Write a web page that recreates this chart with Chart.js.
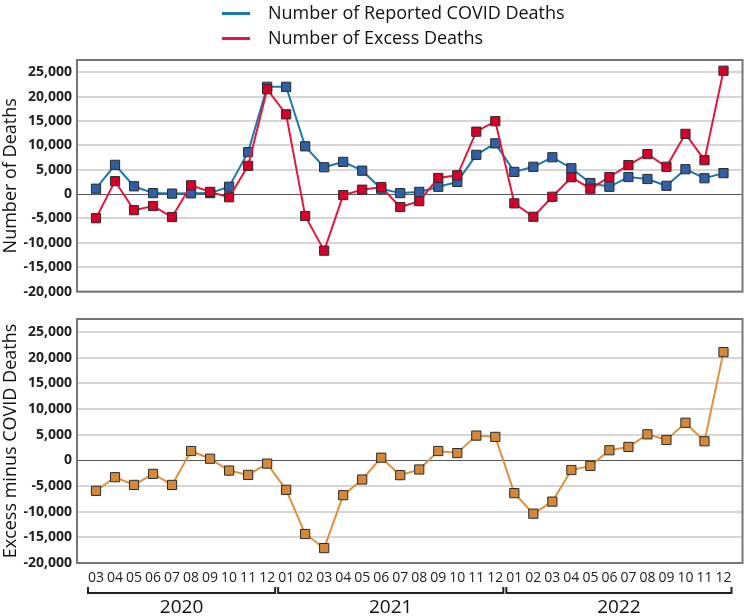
<!DOCTYPE html>
<html><head><meta charset="utf-8">
<script src="https://cdn.jsdelivr.net/npm/chart.js@4/dist/chart.umd.min.js"></script>
<style>
html,body{margin:0;padding:0;background:#fff;}
#wrap{position:relative;width:750px;height:616px;overflow:hidden;font-family:"Open Sans",sans-serif;}
#c1{position:absolute;left:0;top:0;}
#c2{position:absolute;left:0;top:305px;}
.leg{position:absolute;left:222px;font-size:18px;color:#111;line-height:24px;height:24px;white-space:nowrap;z-index:2;}
.leg span{display:inline-block;width:28px;height:3px;vertical-align:middle;margin-right:18px;position:relative;top:-1px;}
</style></head>
<body>
<div id="wrap">
  <canvas id="c1" width="750" height="305"></canvas>
  <canvas id="c2" width="750" height="311"></canvas>
  <div class="leg" style="top:0px"><span style="background:#1a78b0"></span>Number of Reported COVID Deaths</div>
  <div class="leg" style="top:25px"><span style="background:#e3173e"></span>Number of Excess Deaths</div>
</div>
<script>
const periods = ['2020-03','2020-04','2020-05','2020-06','2020-07','2020-08','2020-09','2020-10','2020-11','2020-12',
  '2021-01','2021-02','2021-03','2021-04','2021-05','2021-06','2021-07','2021-08','2021-09','2021-10','2021-11','2021-12',
  '2022-01','2022-02','2022-03','2022-04','2022-05','2022-06','2022-07','2022-08','2022-09','2022-10','2022-11','2022-12'];
const years = ['2020','2021','2022'];
const covidDeaths = [1100, 6000, 1600, 200, 100, 150, 200, 1500, 8600, 22000,
  22000, 9800, 5500, 6600, 4800, 1100, 200, 450, 1500, 2500, 8050, 10400,
  4550, 5600, 7550, 5300, 2250, 1500, 3500, 3100, 1700, 5100, 3250, 4300];
const excessDeaths = [-4950, 2650, -3300, -2450, -4700, 1800, 450, -650, 5800, 21500,
  16350, -4500, -11600, -200, 900, 1450, -2650, -1450, 3300, 3850, 12800, 14950,
  -1900, -4650, -550, 3450, 1100, 3500, 5950, 8200, 5600, 12350, 6950, 25300];
const excessMinusCovid = [-5950, -3300, -4800, -2650, -4800, 1800, 300, -2000, -2850, -650,
  -5750, -14350, -17100, -6800, -3750, 500, -2900, -1800, 1800, 1400, 4800, 4550,
  -6400, -10400, -8050, -1900, -1100, 1950, 2600, 5050, 3950, 7300, 3700, 21050];
const yTicks = [-20000, -15000, -10000, -5000, 0, 5000, 10000, 15000, 20000, 25000];
const yMin = -20000, yMax = 27500;

const labels = ['', ...periods, ''];
const pad = arr => [null, ...arr, null];
const FONT = '"Open Sans", sans-serif';

const boxPlugin = {
  id: 'box',
  afterDraw(chart) {
    const {ctx, chartArea: a} = chart;
    ctx.save();
    ctx.strokeStyle = '#767676';
    ctx.lineWidth = 2;
    ctx.strokeRect(a.left, a.top, a.right - a.left, a.bottom - a.top);
    ctx.restore();
  }
};

const bracketPlugin = {
  id: 'brackets',
  afterDraw(chart) {
    const {ctx, chartArea: a} = chart;
    const xs = chart.scales.x;
    const step = xs.getPixelForValue(2) - xs.getPixelForValue(1);
    ctx.save();
    years.forEach(yr => {
      const idx = [];
      periods.forEach((p, i) => { if (p.startsWith(yr)) idx.push(i + 1); });
      const x1 = xs.getPixelForValue(idx[0]) - step / 2 + 1.5;
      const x2 = xs.getPixelForValue(idx[idx.length - 1]) + step / 2 - 1.5;
      const y = a.bottom + 30;
      ctx.strokeStyle = '#222';
      ctx.lineWidth = 2;
      ctx.beginPath();
      ctx.moveTo(x1, y - 6); ctx.lineTo(x1, y); ctx.lineTo(x2, y); ctx.lineTo(x2, y - 6);
      ctx.stroke();
      ctx.fillStyle = '#111';
      ctx.font = '19px ' + FONT;
      ctx.textAlign = 'center';
      ctx.textBaseline = 'middle';
      ctx.fillText(yr, (x1 + x2) / 2, a.bottom + 45);
    });
    ctx.restore();
  }
};

function yScale(title) {
  return {
    min: yMin, max: yMax,
    afterBuildTicks(s) { s.ticks = yTicks.map(v => ({value: v})); },
    afterFit(s) { s.width = 77; },
    ticks: {
      padding: 5, color: '#222',
      font: {family: FONT, size: 14, weight: 'bold'},
      callback: v => Number(v).toLocaleString('en-US')
    },
    grid: {
      drawTicks: false,
      color: c => c.tick && c.tick.value === 0 ? '#555' : '#d6d6d6',
      lineWidth: c => c.tick && c.tick.value === 0 ? 1 : 2
    },
    border: {display: false},
    title: {display: true, text: title, color: '#111', padding: 0, font: {family: FONT, size: 18}}
  };
}

function ds(label, data, line, fill) {
  return {
    label, data: pad(data), borderColor: line, backgroundColor: fill, borderWidth: 2,
    pointStyle: 'rect', pointRadius: 6.5, pointBackgroundColor: fill,
    pointBorderColor: '#2a2a2a', pointBorderWidth: 1, tension: 0, spanGaps: false
  };
}

const common = {
  responsive: false, animation: false, devicePixelRatio: 1,
  plugins: {legend: {display: false}, tooltip: {enabled: false}}
};

const d1 = ds('Number of Reported COVID Deaths', covidDeaths, '#1a78b0', '#2f5fa5');
d1.order = 1;
const d2 = ds('Number of Excess Deaths', excessDeaths, '#e3173e', '#d6002b');
d2.order = 0;

new Chart(document.getElementById('c1'), {
  type: 'line',
  data: {labels, datasets: [d1, d2]},
  options: Object.assign({}, common, {
    layout: {padding: {top: 60, bottom: 5, left: 0, right: 1}},
    scales: {
      x: {display: false, offset: false},
      y: yScale('Number of Deaths')
    }
  }),
  plugins: [boxPlugin]
});

new Chart(document.getElementById('c2'), {
  type: 'line',
  data: {labels, datasets: [ds('Excess minus COVID Deaths', excessMinusCovid, '#e0913c', '#d5883a')]},
  options: Object.assign({}, common, {
    layout: {padding: {top: 14, bottom: 0, left: 0, right: 1}},
    scales: {
      x: {
        offset: false,
        afterFit(s) { s.height = 53; },
        grid: {display: false, drawTicks: false},
        border: {display: false},
        ticks: {
          autoSkip: false, maxRotation: 0, minRotation: 0, padding: 7, color: '#222',
          font: {family: FONT, size: 14},
          callback(v) { const l = this.getLabelForValue(v); return l ? l.split('-')[1] : ''; }
        }
      },
      y: yScale('Excess minus COVID Deaths')
    }
  }),
  plugins: [boxPlugin, bracketPlugin]
});
</script>
</body></html>
